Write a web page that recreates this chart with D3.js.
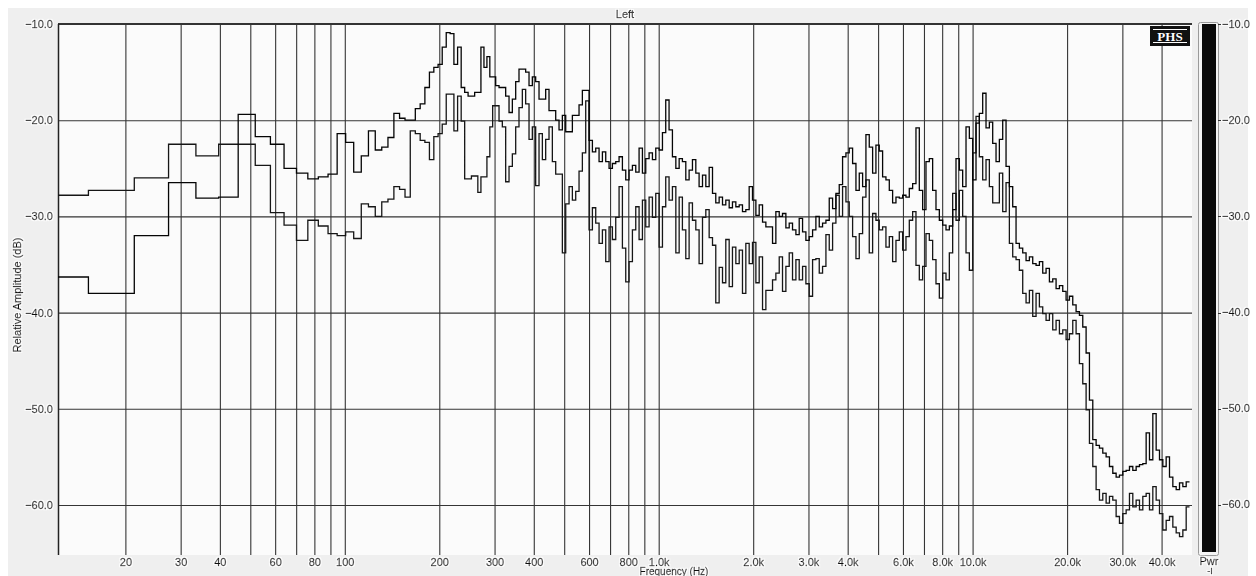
<!DOCTYPE html>
<html>
<head>
<meta charset="utf-8">
<script src="https://cdn.jsdelivr.net/npm/d3@7"></script>
<style>
  html, body { margin: 0; padding: 0; background: #fff; }
  svg { display: block; }
  text { font-family: "Liberation Sans", Arial, sans-serif; font-size: 11px; }
  .lbl { fill: #111; stroke: #111; stroke-width: 0.35px; filter: url(#halo); }
</style>
</head>
<body>
<svg id="chart" width="1256" height="576">
  <defs>
    <filter id="halo" x="-20%" y="-40%" width="140%" height="180%">
      <feMorphology in="SourceAlpha" operator="dilate" radius="1.1" result="grown"/>
      <feFlood flood-color="#ffffff" flood-opacity="0.9"/>
      <feComposite in2="grown" operator="in" result="glow"/>
      <feMerge><feMergeNode in="glow"/><feMergeNode in="SourceGraphic"/></feMerge>
    </filter>
  </defs>
</svg>
<script>
// Step start frequencies (Hz): linear FFT bins at the low end, then a fine log grid.
const binFreqs = [12.2, 15.25, 21.35, 27.45, 33.55, 39.65, 45.75, 51.85, 57.95, 64.05, 70.15, 76.25,
  82.35, 88.45, 94.55, 100.65, 106.75, 112.85, 118.95, 125.05, 131.15, 137.25, 143.35, 149.45,
  155.55, 161.65, 167.75, 173.85, 179.95, 186.05, 192.15, 198.25, 204.35, 210.45, 216.55, 222.65,
  228.75, 234.85, 240.95, 247.05, 253.15, 259.25, 265.35, 271.45, 277.55, 283.65, 289.75, 295.85];

const gridFreqs = [302.5, 310.0, 317.6, 325.5, 333.6, 341.8, 350.3, 358.9, 367.8, 376.9, 386.3, 395.8, 405.6, 415.7,
  426.0, 436.5, 447.3, 458.4, 469.8, 481.4, 493.3, 505.6, 518.1, 530.9, 544.1, 557.5, 571.3, 585.5,
  600, 614.9, 630.1, 645.7, 661.7, 678.1, 694.9, 712.1, 729.7, 747.8,
  766.3, 785.3, 804.7, 824.7, 845.1, 866.0, 887.5, 909.5, 932.0, 955.1,
  978.8, 1003, 1028, 1053, 1079, 1106, 1134, 1162, 1190, 1220,
  1250, 1281, 1313, 1345, 1379, 1413, 1448, 1484, 1520, 1558,
  1597, 1636, 1677, 1718, 1761, 1805, 1849, 1895, 1942, 1990,
  2040, 2090, 2142, 2195, 2249, 2305, 2362, 2421, 2480, 2542,
  2605, 2669, 2736, 2803, 2873, 2944, 3017, 3092, 3168, 3247,
  3327, 3410, 3494, 3581, 3669, 3760, 3853, 3949, 4046, 4147,
  4250, 4355, 4463, 4573, 4686, 4803, 4921, 5043, 5168, 5296,
  5428, 5562, 5700, 5841, 5986, 6134, 6286, 6442, 6601, 6765,
  6932, 7104, 7280, 7460, 7645, 7835, 8029, 8227, 8431, 8640,
  8854, 9074, 9298, 9529, 9765, 10007, 10254, 10508, 10769, 11035,
  11309, 11589, 11876, 12170, 12472, 12781, 13097, 13422, 13754, 14095,
  14444, 14802, 15168, 15544, 15929, 16324, 16728, 17142, 17567, 18002,
  18449, 18906, 19374, 19854, 20346, 20850, 21366, 21896, 22438, 22994,
  23564, 24148, 24746, 25359, 25987, 26631, 27290, 27966, 28659, 29368,
  30097, 30842, 31606, 32389, 33191, 34013, 34856, 35719, 36604, 37510,
  38441, 39393, 40369, 41369, 42393, 43443, 44519, 45622, 46752, 47910,
  49097];

// Relative amplitude (dB) of the two traces, one value per step above.
const levelA = [
  -36.3, -38.0, -32.0, -26.5, -28.1, -28.0, -19.4, -21.7, -22.5, -25.0, -25.5, -26.1, -25.9, -25.6, -21.4, -22.3,
  -25.4, -23.7, -21.1, -23.1, -22.8, -21.8, -19.3, -19.8, -20.0, -20.0, -18.8, -18.3, -16.6, -15.0, -14.5, -14.2,
  -12.4, -10.9, -11.0, -14.2, -12.4, -16.6, -17.1, -17.5, -17.5, -17.1, -17.1, -12.4, -14.5, -13.4, -15.5, -15.5,
  -16.4, -16.6, -16.6, -17.5, -19.2, -17.8, -16.0, -14.7, -14.7, -15.0, -16.4, -15.5, -16.0, -17.8,
  -17.8, -16.8, -19.0, -19.0, -20.0, -21.0, -19.5, -21.2, -21.2, -19.5, -19.5, -18.4, -16.9, -16.9,
  -22.1, -23.3, -22.9, -24.3, -23.3, -24.3, -25.0, -24.5, -24.3, -23.8,
  -25.2, -26.2, -25.2, -24.7, -25.4, -22.9, -25.5, -24.0, -23.4, -24.1,
  -22.9, -23.1, -21.3, -17.9, -21.0, -23.8, -25.0, -24.0, -24.3, -26.2,
  -25.2, -24.1, -25.5, -26.9, -25.7, -26.9, -24.9, -27.6, -28.6, -28.0,
  -28.8, -28.3, -29.1, -28.5, -29.0, -28.8, -29.5, -29.3, -26.9, -28.3,
  -29.9, -28.8, -30.6, -31.1, -31.1, -32.8, -29.5, -30.0, -29.7, -31.2,
  -30.7, -31.4, -31.9, -30.2, -31.6, -32.5, -32.1, -31.4, -30.0, -31.1,
  -30.7, -30.4, -28.1, -29.2, -27.6, -26.7, -23.8, -23.4, -22.9, -24.5,
  -27.3, -25.5, -26.9, -21.5, -22.8, -25.5, -22.6, -23.2, -25.9, -26.2,
  -27.3, -28.6, -28.0, -28.1, -27.8, -28.0, -27.1, -26.6, -20.8, -27.3,
  -29.3, -24.3, -24.0, -27.3, -29.3, -30.4, -30.9, -31.4, -31.0, -29.3,
  -24.0, -25.2, -26.9, -20.7, -21.9, -26.2, -20.3, -19.3, -17.2, -20.8,
  -20.2, -22.4, -24.3, -22.0, -20.0, -24.8, -26.9, -29.0, -32.8, -33.3,
  -33.8, -34.6, -34.2, -34.9, -35.1, -34.7, -35.9, -35.4, -36.8, -36.5,
  -37.5, -37.2, -37.8, -38.7, -38.3, -39.2, -39.9, -40.3, -41.5, -44.2,
  -49.1, -53.2, -53.8, -54.1, -54.6, -55.0, -56.0, -56.7, -57.1, -56.9,
  -56.5, -56.4, -56.0, -56.4, -56.0, -55.8, -55.7, -52.5, -55.3, -50.5,
  -54.3, -55.3, -56.0, -55.0, -57.1, -58.1, -58.4, -57.7, -58.1, -57.6,
  -57.6];

const levelB = [
  -27.8, -27.3, -26.0, -22.5, -23.7, -22.5, -22.5, -24.7, -29.6, -30.9, -32.5, -30.4, -31.0, -31.8, -32.0, -31.6,
  -32.3, -28.7, -29.0, -30.0, -28.5, -28.2, -26.9, -27.2, -28.0, -21.1, -21.4, -22.1, -22.3, -24.1, -21.7, -21.4,
  -20.4, -17.3, -17.3, -21.1, -17.5, -20.1, -26.1, -26.1, -25.8, -25.8, -27.5, -25.9, -25.9, -23.8, -20.7, -18.5,
  -18.5, -20.1, -20.7, -26.4, -24.8, -23.5, -20.7, -18.7, -16.8, -18.3, -22.0, -20.7, -26.8, -21.4,
  -24.1, -22.0, -20.7, -24.3, -25.6, -25.6, -33.8, -28.7, -26.9, -28.3, -27.4, -25.3, -23.4, -18.0,
  -31.4, -29.1, -30.7, -32.8, -31.4, -34.7, -31.1, -32.4, -30.1, -26.9,
  -33.3, -36.8, -34.7, -31.4, -29.0, -32.4, -28.3, -31.1, -28.0, -30.1,
  -27.6, -33.2, -29.0, -25.9, -28.3, -26.9, -33.8, -28.0, -31.4, -34.4,
  -28.6, -30.4, -31.4, -34.9, -30.1, -29.3, -32.2, -33.0, -39.0, -35.3,
  -36.9, -32.4, -37.3, -33.2, -34.9, -33.5, -38.0, -32.8, -34.9, -32.7,
  -36.9, -34.2, -39.7, -37.7, -37.7, -36.6, -35.9, -34.2, -37.8, -35.2,
  -33.8, -36.6, -34.5, -36.6, -35.2, -37.0, -38.3, -34.5, -34.4, -35.9,
  -35.2, -31.9, -33.5, -30.7, -27.8, -30.0, -26.9, -28.5, -30.0, -32.1,
  -34.4, -31.8, -28.0, -26.2, -33.8, -29.7, -30.4, -31.4, -31.1, -33.2,
  -32.1, -34.7, -32.5, -31.6, -33.5, -32.1, -30.4, -29.5, -35.1, -36.6,
  -35.2, -31.8, -32.5, -34.5, -37.0, -38.5, -35.9, -36.6, -33.8, -27.6,
  -30.4, -27.3, -30.0, -33.8, -35.6, -23.4, -19.6, -23.8, -26.2, -24.1,
  -26.9, -28.6, -28.6, -25.5, -29.5, -26.5, -32.8, -34.2, -34.5, -35.6,
  -38.0, -39.0, -37.7, -40.4, -38.0, -39.4, -40.1, -40.8, -40.1, -41.8,
  -40.8, -42.2, -41.8, -42.8, -42.2, -40.8, -42.2, -45.3, -47.4, -50.1,
  -53.6, -56.0, -58.4, -59.5, -58.8, -59.8, -59.1, -59.5, -61.2, -61.9,
  -60.9, -60.5, -58.8, -60.2, -59.5, -60.5, -59.1, -58.8, -60.5, -58.1,
  -59.5, -60.9, -62.6, -61.6, -61.2, -62.3, -62.9, -63.3, -62.6, -60.2,
  -60.2];

// Axis ticks
const yTicks = [-10, -20, -30, -40, -50, -60];
const xGridFreqs = [20, 30, 40, 50, 60, 70, 80, 90, 100, 200, 300, 400, 500, 600, 700, 800, 900,
  1000, 2000, 3000, 4000, 5000, 6000, 7000, 8000, 9000, 10000, 20000, 30000, 40000];
const xLabelFreqs = [20, 30, 40, 60, 80, 100, 200, 300, 400, 600, 800,
  1000, 2000, 3000, 4000, 6000, 8000, 10000, 20000, 30000, 40000];
const xLabelText = ["20", "30", "40", "60", "80", "100", "200", "300", "400", "600", "800",
  "1.0k", "2.0k", "3.0k", "4.0k", "6.0k", "8.0k", "10.0k", "20.0k", "30.0k", "40.0k"];

const freqHz = binFreqs.concat(gridFreqs);

const svg = d3.select("#chart");
const plot = { left: 58, right: 1192, top: 24, bottom: 555 };

const x = d3.scaleLog().domain([12.2, 50000]).range([plot.left, plot.right]);
const y = d3.scaleLinear().domain([-10, -65.2]).range([plot.top, plot.bottom]);

// window backgrounds
svg.append("rect").attr("x", 0).attr("y", 0).attr("width", 1256).attr("height", 576).attr("fill", "#ffffff");
svg.append("rect").attr("x", 8).attr("y", 8).attr("width", 1240).attr("height", 568).attr("fill", "#efefef");
svg.append("rect").attr("x", plot.left).attr("y", plot.top)
  .attr("width", plot.right - plot.left).attr("height", plot.bottom - plot.top).attr("fill", "#fbfbfb");

// vertical grid + frequency labels
const labelOf = new Map(xLabelFreqs.map((f, i) => [f, xLabelText[i]]));
const xAxis = d3.axisBottom(x)
  .tickValues(xGridFreqs)
  .tickSize(-(plot.bottom - plot.top))
  .tickPadding(3)
  .tickFormat(f => labelOf.get(f) || "");
const gx = svg.append("g").attr("transform", `translate(0,${plot.bottom})`).call(xAxis);
gx.attr("font-family", null).attr("font-size", null);
gx.select(".domain").remove();
gx.selectAll(".tick line").attr("stroke", "#353535").attr("stroke-width", 1.1);
gx.selectAll(".tick text").attr("class", "lbl");

// horizontal grid + amplitude labels
const yAxis = d3.axisLeft(y)
  .tickValues(yTicks)
  .tickSize(-(plot.right - plot.left))
  .tickPadding(5)
  .tickFormat(d3.format(".1f"));
const gy = svg.append("g").attr("transform", `translate(${plot.left},0)`).call(yAxis);
gy.attr("font-family", null).attr("font-size", null);
gy.select(".domain").remove();
gy.selectAll(".tick line").attr("stroke", "#353535").attr("stroke-width", 1.1);
gy.selectAll(".tick text").attr("class", "lbl");

// frame: top and left edges
svg.append("line").attr("x1", plot.left).attr("x2", plot.right).attr("y1", plot.top).attr("y2", plot.top)
  .attr("stroke", "#333").attr("stroke-width", 2);
svg.append("line").attr("x1", plot.left + 0.5).attr("x2", plot.left + 0.5).attr("y1", plot.top).attr("y2", plot.bottom)
  .attr("stroke", "#222").attr("stroke-width", 1.5);

// traces
svg.append("clipPath").attr("id", "plotClip").append("rect")
  .attr("x", plot.left).attr("y", plot.top).attr("width", plot.right - plot.left).attr("height", plot.bottom - plot.top);

const line = d3.line().x(d => x(d.f)).y(d => y(d.v)).curve(d3.curveStepAfter);
const toPoints = levels => freqHz.map((f, i) => ({ f: f, v: levels[i] })).filter(d => d.v !== undefined);

const traces = svg.append("g").attr("clip-path", "url(#plotClip)");
traces.append("path").datum(toPoints(levelB)).attr("d", line)
  .attr("fill", "none").attr("stroke", "#161616").attr("stroke-width", 1.3);
traces.append("path").datum(toPoints(levelA)).attr("d", line)
  .attr("fill", "none").attr("stroke", "#050505").attr("stroke-width", 1.3);

// titles
svg.append("text").attr("class", "lbl").attr("x", 625).attr("y", 18).attr("text-anchor", "middle").text("Left");
svg.append("text").attr("class", "lbl").attr("x", 674).attr("y", 574.5).attr("text-anchor", "middle")
  .style("font-size", "10px").text("Frequency (Hz)");
svg.append("text").attr("class", "lbl").attr("transform", "translate(21,295) rotate(-90)")
  .attr("text-anchor", "middle").text("Relative Amplitude (dB)");

// badge
const badge = svg.append("g");
badge.append("rect").attr("x", 1150).attr("y", 26).attr("width", 40).attr("height", 20).attr("fill", "#111");
badge.append("line").attr("x1", 1153).attr("x2", 1187).attr("y1", 29.5).attr("y2", 29.5).attr("stroke", "#fff").attr("stroke-width", 1);
badge.append("line").attr("x1", 1153).attr("x2", 1187).attr("y1", 42.5).attr("y2", 42.5).attr("stroke", "#fff").attr("stroke-width", 1);
badge.append("text").attr("x", 1170).attr("y", 41).attr("text-anchor", "middle")
  .style("font-family", '"Liberation Serif", "DejaVu Serif", serif').style("font-size", "13px")
  .style("font-weight", "bold").style("fill", "#fff").text("PHS");

// power meter on the right
svg.append("rect").attr("x", 1198.5).attr("y", 22.5).attr("width", 20).attr("height", 533).attr("rx", 2)
  .attr("fill", "#f4f4f4").attr("stroke", "#9a9a9a").attr("stroke-width", 1);
svg.append("rect").attr("x", 1202).attr("y", plot.top).attr("width", 14).attr("height", 528).attr("fill", "#0a0a0a");

const meter = svg.append("g");
meter.selectAll("line.mt").data(yTicks).enter().append("line")
  .attr("x1", 1218).attr("x2", 1221).attr("y1", d => Math.round(y(d)) + 0.5).attr("y2", d => Math.round(y(d)) + 0.5)
  .attr("stroke", "#333");
meter.selectAll("text.mt").data(yTicks).enter().append("text").attr("class", "lbl")
  .attr("x", 1222).attr("y", d => y(d)).attr("dy", "0.32em").text(d => d3.format(".1f")(d));
svg.append("text").attr("class", "lbl").attr("x", 1209).attr("y", 565).attr("text-anchor", "middle").text("Pwr");
svg.append("text").attr("class", "lbl").attr("x", 1210).attr("y", 574).attr("text-anchor", "middle")
  .style("font-size", "9px").text("-I");
</script>
</body>
</html>
